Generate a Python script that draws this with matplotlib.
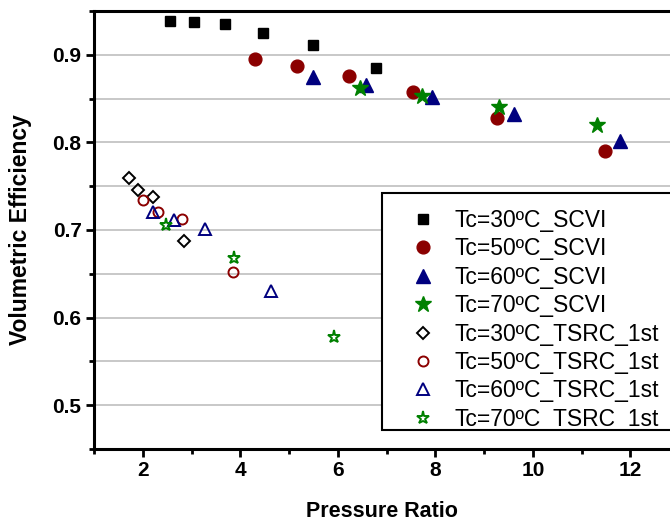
import matplotlib
matplotlib.use("Agg")
import matplotlib.pyplot as plt
from matplotlib.patches import Rectangle
from matplotlib.ticker import MultipleLocator

plt.rcParams['font.family'] = ['Liberation Sans', 'DejaVu Sans']

# ---- data ----
scvi30_x = [2.55, 3.05, 3.68, 4.47, 5.49, 6.79]
scvi30_y = [0.939, 0.938, 0.935, 0.925, 0.911, 0.885]
scvi50_x = [4.31, 5.16, 6.22, 7.55, 9.27, 11.48]
scvi50_y = [0.895, 0.887, 0.876, 0.858, 0.828, 0.790]
scvi60_x = [5.49, 6.57, 7.92, 9.62, 11.79]
scvi60_y = [0.875, 0.866, 0.852, 0.832, 0.802]
scvi70_x = [6.46, 7.72, 9.30, 11.31]
scvi70_y = [0.862, 0.853, 0.840, 0.820]
tsrc30_x = [1.715, 1.91, 2.205, 2.84]
tsrc30_y = [0.759, 0.746, 0.738, 0.688]
tsrc50_x = [2.00, 2.32, 2.81, 3.85]
tsrc50_y = [0.734, 0.721, 0.713, 0.652]
tsrc60_x = [2.20, 2.64, 3.27, 4.63]
tsrc60_y = [0.720, 0.711, 0.701, 0.630]
tsrc70_x = [2.47, 3.87, 5.92]
tsrc70_y = [0.706, 0.668, 0.578]

labels = ["Tc=30ºC_SCVI", "Tc=50ºC_SCVI", "Tc=60ºC_SCVI", "Tc=70ºC_SCVI",
          "Tc=30ºC_TSRC_1st", "Tc=50ºC_TSRC_1st", "Tc=60ºC_TSRC_1st", "Tc=70ºC_TSRC_1st"]
x_ticks = [2, 4, 6, 8, 10, 12]
y_ticks = [0.5, 0.6, 0.7, 0.8, 0.9]

BLACK = '#000000'
RED = '#8b0000'
BLUE = '#00007f'
GREEN = '#008000'

fig = plt.figure(figsize=(6.7, 5.24), dpi=100)
W, H = 670, 524
ax = fig.add_axes([94 / W, 1 - 449 / H, (670 - 94) / W, (449 - 11) / H])

series = [
    (scvi30_x, scvi30_y, dict(marker='s', ms=7.4, color=BLACK, mec=BLACK)),
    (scvi50_x, scvi50_y, dict(marker='o', ms=9.2, color=RED, mec=RED)),
    (scvi60_x, scvi60_y, dict(marker='^', ms=10, color=BLUE, mec=BLUE)),
    (scvi70_x, scvi70_y, dict(marker='*', ms=12, color=GREEN, mec=GREEN)),
    (tsrc30_x, tsrc30_y, dict(marker='D', ms=5.8, mfc='none', mec=BLACK, mew=1.4)),
    (tsrc50_x, tsrc50_y, dict(marker='o', ms=7.2, mfc='none', mec=RED, mew=1.4)),
    (tsrc60_x, tsrc60_y, dict(marker='^', ms=8.4, mfc='none', mec=BLUE, mew=1.4)),
    (tsrc70_x, tsrc70_y, dict(marker='*', ms=9.5, mfc='none', mec=GREEN, mew=1.4)),
]
handles = []
for (xs, ys, st), lab in zip(series, labels):
    h, = ax.plot(xs, ys, linestyle='none', label=lab, zorder=3, **st)
    handles.append(h)

ax.set_xlim(1, 12.81)
ax.set_ylim(0.45, 0.95)
ax.set_xticks(x_ticks)
ax.set_yticks(y_ticks)
ax.xaxis.set_minor_locator(MultipleLocator(1))
ax.yaxis.set_minor_locator(MultipleLocator(0.05))
ax.set_yticklabels([f"{v:.1f}" for v in y_ticks])

ax.grid(axis='y', which='both', color='#c4c4c4', linewidth=1.3, zorder=0)
ax.set_axisbelow(True)

for s in ['left', 'bottom', 'top']:
    ax.spines[s].set_linewidth(2.2)
    ax.spines[s].set_color('black')
ax.spines['right'].set_visible(False)

ax.tick_params(axis='both', which='major', direction='out', length=6, width=2,
               labelsize=15, pad=3)
ax.tick_params(axis='both', which='minor', direction='out', length=3.5, width=2)
for lab in ax.get_xticklabels() + ax.get_yticklabels():
    lab.set_fontweight('bold')

ax.set_xlabel("Pressure Ratio", fontsize=15.5, fontweight='bold')
ax.set_ylabel("Volumetric Efficiency", fontsize=16.5, fontweight='bold')
ax.xaxis.set_label_coords(0.5, -0.118)
ax.yaxis.set_label_coords(-0.108, 0.5)

# legend frame
fig.patches.append(Rectangle((381.7 / W, 1 - 430 / H), (675 - 381.7) / W, (430 - 192.7) / H,
                             transform=fig.transFigure, fill=True, facecolor='white',
                             edgecolor='black', linewidth=1.5, zorder=4))
leg = fig.legend(handles=handles, labels=labels, loc='upper left',
                 bbox_to_anchor=(412 / W, 1 - 209 / H), bbox_transform=fig.transFigure,
                 frameon=False, numpoints=1, handlelength=1.0, handletextpad=0.85,
                 borderpad=0, borderaxespad=0, labelspacing=0.235,
                 prop={'family': ['Liberation Sans', 'DejaVu Sans'], 'size': 16.5})
leg.set_zorder(5)

fig.savefig("out.png", dpi=100)
